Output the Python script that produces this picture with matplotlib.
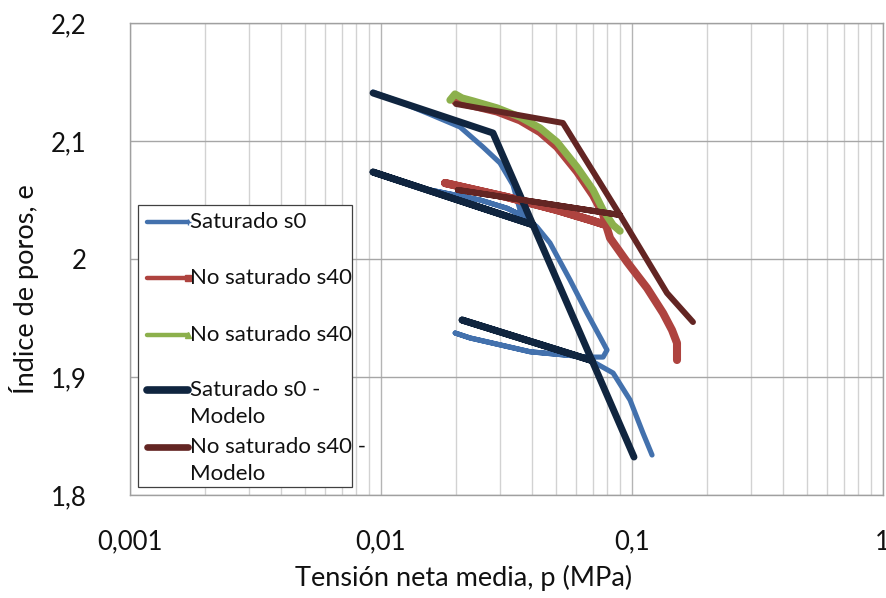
import matplotlib
matplotlib.use("Agg")
import matplotlib.pyplot as plt
from matplotlib.ticker import FixedLocator, FuncFormatter, LogLocator, NullFormatter
from matplotlib.lines import Line2D
from matplotlib.patches import Rectangle

plt.rcParams["font.family"] = ["Lato", "DejaVu Sans"]

# 1. Measured curves (p in MPa, void ratio e)
sat_p = [0.00932, 0.01194, 0.0153, 0.0207, 0.02556, 0.02987, 0.03366, 0.03589, 0.03828,
         0.0319, 0.0249, 0.0153, 0.00932,
         0.0153, 0.0249, 0.0319, 0.03828,
         0.04195, 0.04725, 0.0568, 0.06637, 0.07478, 0.07974, 0.0769,
         0.0664, 0.0394, 0.0227, 0.0198,
         0.0227, 0.0394, 0.0664, 0.0682, 0.0843, 0.0985, 0.1109, 0.1205]
sat_e = [2.1415, 2.1331, 2.1237, 2.1119, 2.0949, 2.0814, 2.0627, 2.0415, 2.0347,
         2.043, 2.050, 2.059, 2.0737,
         2.059, 2.050, 2.043, 2.0347,
         2.0271, 2.0136, 1.9822, 1.9542, 1.9339, 1.9229, 1.9169,
         1.9169, 1.9214, 1.9331, 1.9373,
         1.9331, 1.9214, 1.9169, 1.9144, 1.9034, 1.8805, 1.8525, 1.8339]

uns_p = [0.0198, 0.02906, 0.03589, 0.04313, 0.0504, 0.06054, 0.07013, 0.0769, 0.0790,
         0.06823, 0.0504, 0.03185, 0.01804,
         0.03185, 0.0504, 0.06823, 0.0790,
         0.08195, 0.09579, 0.1151, 0.1333, 0.1447, 0.1515, 0.1515]
uns_e = [2.1335, 2.1250, 2.1175, 2.1075, 2.0950, 2.0740, 2.0540, 2.0380, 2.0288,
         2.0331, 2.0415, 2.0525, 2.0644,
         2.0525, 2.0415, 2.0331, 2.0288,
         2.0178, 1.9975, 1.9754, 1.9542, 1.9398, 1.9288, 1.9144]

uns2_p = [0.01889, 0.01977, 0.0211, 0.02331, 0.02906, 0.03589, 0.04313, 0.0504,
          0.06054, 0.07013, 0.07688, 0.08425, 0.08983]
uns2_e = [2.1347, 2.1398, 2.1364, 2.1339, 2.128, 2.1203, 2.111, 2.0992,
          2.078, 2.0585, 2.0415, 2.0288, 2.0237]

# 2. Model predictions
sat_mod_p = [0.00932, 0.0280, 0.0404, 0.00932, 0.0404, 0.0695, 0.0211, 0.0695, 0.1021]
sat_mod_e = [2.1407, 2.1068, 2.0290, 2.0737, 2.0290, 1.9139, 1.9483, 1.9139, 1.8322]

uns_mod_p = [0.01995, 0.0532, 0.0898, 0.0203, 0.0898, 0.1382, 0.1754]
uns_mod_e = [2.1314, 2.1153, 2.0373, 2.0585, 2.0373, 1.9712, 1.9466]

labels = ["Saturado s0", "No saturado s40", "No saturado s40",
          "Saturado s0 -\nModelo", "No saturado s40 -\nModelo"]

y_ticks = [1.8, 1.9, 2.0, 2.1, 2.2]
x_ticks = [0.001, 0.01, 0.1, 1]

# 3. Series styles: colour, line width, legend marker
series = [
    (sat_p, sat_e, "#4371AD", 3.7, "+"),
    (uns_p, uns_e, "#AE433F", 5.8, "s"),
    (uns2_p, uns2_e, "#8CB04C", 5.3, "^"),
    (sat_mod_p, sat_mod_e, "#10253F", 5.0, None),
    (uns_mod_p, uns_mod_e, "#632523", 4.3, None),
]

fig = plt.figure(figsize=(8.86, 5.98), dpi=100)
ax = fig.add_axes([0.1464, 0.1722, 0.8499, 0.7893])

for p, e, color, lw, marker in series:
    ax.plot(p, e, color=color, lw=lw, solid_capstyle="round", solid_joinstyle="round")

# 4. Axes, grid and tick labels (comma decimal)
ax.set_xscale("log")
ax.set_xlim(0.001, 1)
ax.set_ylim(1.8, 2.2)
ax.yaxis.set_major_locator(FixedLocator(y_ticks))
ax.xaxis.set_major_locator(FixedLocator(x_ticks))
ax.xaxis.set_minor_locator(LogLocator(base=10, subs=range(2, 10)))
ax.xaxis.set_minor_formatter(NullFormatter())
comma = FuncFormatter(lambda v, pos: f"{v:g}".replace(".", ","))
ax.xaxis.set_major_formatter(comma)
ax.yaxis.set_major_formatter(comma)
ax.tick_params(which="both", length=0, labelsize=18.5, colors="#111111")
ax.tick_params(axis="y", pad=31)
ax.tick_params(axis="x", pad=25)
ax.grid(which="major", axis="y", color="#A6A6A6", lw=1.0)
ax.grid(which="major", axis="x", color="#B4B4B4", lw=1.0)
ax.grid(which="minor", axis="x", color="#D2D2D2", lw=1.0)
ax.set_axisbelow(True)
for s in ax.spines.values():
    s.set_color("#A0A0A0")
    s.set_linewidth(1.0)

fig.text(464 / 886, 1 - 578 / 598, "Tensión neta media, p (MPa)", fontsize=19.5,
         ha="center", va="center", color="#111111")
fig.text(24 / 886, 1 - 289 / 598, "Índice de poros, e", fontsize=19.5, rotation=90,
         ha="center", va="center", color="#111111")

# 5. Legend box drawn inside the axes
ax.add_patch(Rectangle((0.011, 0.017), 0.284, 0.5975, transform=ax.transAxes,
                       facecolor="white", edgecolor="#404040", lw=0.9, zorder=5))
entry_y = [0.5784, 0.4597, 0.3390, 0.2225, 0.1017]
line_step = 0.0572
for (p, e, color, lw, marker), label, y in zip(series, labels, entry_y):
    ax.add_line(Line2D([0.023, 0.0774], [y, y], transform=ax.transAxes, color=color,
                       lw=min(lw, 3.2) if marker else lw + 0.5, marker=marker,
                       markevery=[1] if marker else None, markersize=5,
                       solid_capstyle="round", zorder=6))
    for i, part in enumerate(label.split("\n")):
        ax.text(0.0801, y - i * line_step, part, transform=ax.transAxes, fontsize=16,
                ha="left", va="center", color="#111111", zorder=6)

fig.savefig("out.png", dpi=100)
